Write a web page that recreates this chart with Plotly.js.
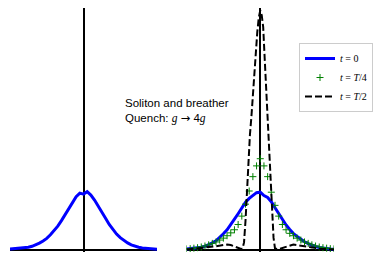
<!DOCTYPE html>
<html>
<head>
<meta charset="utf-8">
<script src="https://cdn.plot.ly/plotly-3.0.1.min.js"></script>
<style>html,body{margin:0;padding:0;background:#fff;}#chart{width:373px;height:262px;}</style>
</head>
<body>
<div id="chart"></div>
<script>
// Shared grid for the smooth profiles
var xGrid = [-10,-9.5,-9,-8.5,-8,-7.5,-7,-6.5,-6,-5.5,-5,-4.5,-4,-3.5,-3,-2.5,-2,-1.5,-1,-0.5,0,0.5,1,1.5,2,2.5,3,3.5,4,4.5,5,5.5,6,6.5,7,7.5,8,8.5,9,9.5,10];

// Left panel: initial soliton density
var leftT0 = [0.002,0.003,0.004,0.005,0.007,0.010,0.014,0.019,0.027,0.036,0.047,0.062,0.080,0.098,0.121,0.146,0.172,0.197,0.221,0.236,0.232,0.242,0.228,0.207,0.183,0.158,0.131,0.105,0.084,0.065,0.050,0.038,0.028,0.020,0.014,0.010,0.007,0.005,0.004,0.003,0.002];

// Right panel: t = 0
var rightT0 = [0.003,0.004,0.006,0.008,0.010,0.014,0.020,0.028,0.037,0.050,0.066,0.083,0.103,0.127,0.150,0.175,0.198,0.214,0.228,0.238,0.240,0.226,0.218,0.200,0.175,0.150,0.125,0.103,0.084,0.067,0.055,0.043,0.033,0.025,0.018,0.013,0.009,0.006,0.004,0.003,0.002];

// Right panel: t = T/4
var rightT4 = [0.003,0.004,0.006,0.008,0.011,0.015,0.020,0.026,0.032,0.040,0.048,0.058,0.070,0.083,0.105,0.140,0.190,0.245,0.305,0.350,0.380,0.350,0.305,0.240,0.185,0.140,0.105,0.083,0.068,0.058,0.048,0.040,0.032,0.026,0.020,0.015,0.011,0.008,0.006,0.004,0.003];

// Right panel: t = T/2 (finer sampling near the peak)
var xHalf = [-10,-9,-8,-7,-6,-5,-4.5,-4,-3.5,-3,-2.6,-2.4,-2.2,-2.0,-1.8,-1.6,-1.4,-1.2,-1.0,-0.8,-0.6,-0.4,-0.2,0,0.2,0.4,0.6,0.8,1.0,1.2,1.4,1.6,1.8,2.0,2.3,2.7,3.0,3.5,4.0,4.5,5.0,5.5,6,7,8,9,10];
var rightT2 = [0.0,0.003,0.008,0.011,0.014,0.019,0.021,0.019,0.013,0.007,0.003,0.004,0.03,0.12,0.25,0.38,0.48,0.555,0.65,0.73,0.83,0.91,0.97,1.0,0.98,0.93,0.80,0.67,0.54,0.43,0.30,0.17,0.05,0.005,0.002,0.004,0.007,0.014,0.019,0.021,0.019,0.016,0.013,0.008,0.004,0.002,0.0];

var legendNames = ['<i>t</i> = 0', '<i>t</i> = <i>T</i>/4', '<i>t</i> = <i>T</i>/2'];
var noteText = 'Soliton and breather<br>Quench: <i style="font-family:Liberation Serif">g</i> <span style="font-family:DejaVu Sans">→</span> 4<i style="font-family:Liberation Serif">g</i>';

var traces = [
  {x: xGrid, y: leftT0, xaxis: 'x', yaxis: 'y', mode: 'lines', line: {color: '#0000ff', width: 3}, showlegend: false, hoverinfo: 'skip'},
  {x: xGrid, y: rightT0, xaxis: 'x2', yaxis: 'y2', mode: 'lines', name: legendNames[0], line: {color: '#0000ff', width: 3}},
  {x: xGrid, y: rightT4, xaxis: 'x2', yaxis: 'y2', mode: 'markers', name: legendNames[1],
   marker: {symbol: 'cross-thin', size: 5, color: '#008000', line: {color: '#008000', width: 1}}},
  {x: xHalf, y: rightT2, xaxis: 'x2', yaxis: 'y2', mode: 'lines', name: legendNames[2], line: {color: '#000000', width: 2, dash: '7px,3px'}}
];

var axBase = {range: [-10, 10], showgrid: false, showticklabels: false, ticks: '', showline: false,
  zeroline: true, zerolinecolor: '#000', zerolinewidth: 2, fixedrange: true};
var ayBase = {range: [-0.01, 1.01], showgrid: false, showticklabels: false, ticks: '', showline: false,
  zeroline: true, zerolinecolor: '#000', zerolinewidth: 2, fixedrange: true};

var layout = {
  width: 373, height: 262,
  margin: {l: 0, r: 0, t: 8, b: 10},
  paper_bgcolor: '#fff', plot_bgcolor: 'rgba(0,0,0,0)',
  xaxis: Object.assign({}, axBase, {domain: [10/373, 157/373], anchor: 'y'}),
  yaxis: Object.assign({}, ayBase, {domain: [0, 1], anchor: 'x'}),
  xaxis2: Object.assign({}, axBase, {domain: [186.5/373, 334/373], anchor: 'y2'}),
  yaxis2: Object.assign({}, ayBase, {domain: [0, 1], anchor: 'x2'}),
  showlegend: true,
  legend: {x: 373/373, xanchor: 'right', y: (252 - 43) / 244, yanchor: 'top',
    bgcolor: '#fff', bordercolor: '#cccccc', borderwidth: 1,
    font: {family: 'Liberation Serif', size: 10, color: '#000'}, itemwidth: 30, tracegroupgap: 0},
  annotations: [{
    xref: 'paper', yref: 'paper', x: 123/373, y: (253 - 112) / 244, xanchor: 'left', yanchor: 'middle',
    text: noteText, showarrow: false, align: 'left',
    font: {family: 'Liberation Sans', size: 11.5, color: '#000'}
  }]
};

Plotly.newPlot('chart', traces, layout, {staticPlot: true, displayModeBar: false});
</script>
</body>
</html>
